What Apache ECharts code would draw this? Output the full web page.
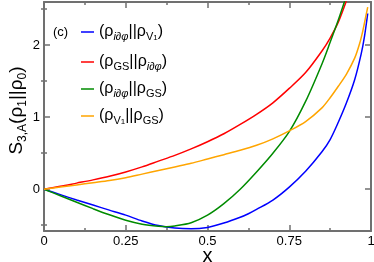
<!DOCTYPE html>
<html>
<head>
<meta charset="utf-8">
<script src="https://cdn.jsdelivr.net/npm/echarts@6/dist/echarts.min.js"></script>
<style>html,body{margin:0;padding:0;background:#fff}#c{width:374px;height:262px}</style>
</head>
<body>
<div id="c"></div>
<script>
// ---- data ----
const blueX = [0,0.05,0.1,0.15,0.2,0.25,0.3,0.35,0.4,0.45,0.5,0.55,0.6,0.625,0.65,0.7,0.75,0.8,0.85,0.875,0.9,0.925,0.95,0.97,0.98,0.99];
const blueY = [0,-0.075,-0.15,-0.22,-0.29,-0.36,-0.44,-0.505,-0.54,-0.55,-0.53,-0.47,-0.39,-0.34,-0.28,-0.15,0.03,0.25,0.52,0.69,0.93,1.2,1.52,1.88,2.12,2.44];
const redX = [0,0.05,0.1,0.15,0.2,0.25,0.3,0.35,0.4,0.45,0.5,0.55,0.6,0.65,0.7,0.75,0.8,0.85,0.875,0.9,0.925];
const redY = [0,0.04,0.085,0.13,0.18,0.24,0.31,0.39,0.47,0.56,0.66,0.77,0.9,1.04,1.2,1.4,1.62,1.92,2.1,2.32,2.62];
const greenX = [0,0.05,0.1,0.15,0.2,0.25,0.3,0.35,0.375,0.4,0.45,0.5,0.55,0.6,0.65,0.7,0.75,0.8,0.85,0.875,0.9,0.92];
const greenY = [0,-0.09,-0.18,-0.27,-0.355,-0.43,-0.485,-0.515,-0.52,-0.51,-0.465,-0.36,-0.2,0.0,0.24,0.5,0.8,1.22,1.74,2.04,2.35,2.62];
const orangeX = [0,0.05,0.1,0.15,0.2,0.25,0.3,0.35,0.4,0.45,0.5,0.55,0.6,0.65,0.7,0.75,0.8,0.85,0.875,0.9,0.925,0.95,0.965,0.975,0.985,0.99];
const orangeY = [0,0.03,0.06,0.09,0.12,0.16,0.21,0.26,0.31,0.36,0.42,0.48,0.54,0.61,0.7,0.81,0.94,1.13,1.27,1.43,1.6,1.82,2.02,2.2,2.42,2.53];
const xTickValues = [0,0.25,0.5,0.75,1];
const xTickLabels = ['0','0.25','0.5','0.75','1'];
const yTickValues = [0,1,2];
const yTickLabels = ['0','1','2'];
const yMinorValues = [-0.5,0.5,1.5,2.5];
const seriesNames = ['iddphi_V1','GS_iddphi','iddphi_GS','V1_GS'];
const legendRich = {
  'iddphi_V1': '{p|(ρ}{si|i∂φ}{p|||ρ}{s|V}{ss|1}{p|)}',
  'GS_iddphi': '{p|(ρ}{s|GS}{p|||ρ}{si|i∂φ}{p|)}',
  'iddphi_GS': '{p|(ρ}{si|i∂φ}{p|||ρ}{s|GS}{p|)}',
  'V1_GS': '{p|(ρ}{s|V}{ss|1}{p|||ρ}{s|GS}{p|)}'
};
const colors = ['#0000ff','#ff0000','#008b00','#ffa500'];

function pairs(xs, ys){ return xs.map((x,i)=>[x, ys[i]]); }

const FONT = 'Liberation Sans, Arial, Helvetica, sans-serif';
const axisCol = '#707070';
const rich = {
  p: {fontSize: 16, fontFamily: FONT, color:'#000', lineHeight: 20, verticalAlign:'middle'},
  s: {fontSize: 11, fontFamily: FONT, color:'#000', lineHeight: 10, verticalAlign:'bottom'},
  si: {fontSize: 11, fontFamily: FONT, fontStyle:'italic', color:'#000', lineHeight: 10, verticalAlign:'bottom'},
  ss: {fontSize: 8, fontFamily: FONT, color:'#000', lineHeight: 6, verticalAlign:'bottom'}
};

const chart = echarts.init(document.getElementById('c'), null, {renderer:'canvas'});
const legendTops = [19, 49, 76, 103];
const option = {
  animation: false,
  title: {text:'(c)', left: 48, top: 21, textStyle:{fontSize:13, fontWeight:'normal', fontFamily:FONT, color:'#000'}},
  grid: {left:44, right:3, top:2, bottom:31, containLabel:false, outerBoundsMode:'none'},
  legend: seriesNames.map((n,i)=>({
    data:[n], left: 76, top: legendTops[i], orient:'vertical', icon:'rect', itemWidth:13, itemHeight:1.5, itemGap:0,
    formatter: (name)=>legendRich[name], textStyle:{rich: rich}, selectedMode:false
  })),
  xAxis: [
    {type:'value', min:0, max:1, interval:0.25, position:'bottom',
     axisLine:{show:true, onZero:false, lineStyle:{color:axisCol, width:2}},
     axisTick:{show:true, inside:true, length:6, lineStyle:{color:axisCol, width:1.5}},
     minorTick:{show:true, splitNumber:2, length:3, lineStyle:{color:axisCol, width:1.5}},
     splitLine:{show:false},
     axisLabel:{fontSize:13, fontFamily:FONT, color:'#000', margin:4, formatter:(v)=>{const k=xTickValues.indexOf(v); return k>=0?xTickLabels[k]:'';}},
     name:'x', nameLocation:'middle', nameGap:15, nameMoveOverlap:false, nameTextStyle:{fontSize:20, fontFamily:FONT, color:'#000'}},
    {type:'value', min:0, max:1, interval:0.25, position:'top',
     axisLine:{show:true, onZero:false, lineStyle:{color:axisCol, width:2}},
     axisTick:{show:true, inside:true, length:6, lineStyle:{color:axisCol, width:1.5}},
     minorTick:{show:true, splitNumber:2, length:3, lineStyle:{color:axisCol, width:1.5}},
     splitLine:{show:false}, axisLabel:{show:false}}
  ],
  yAxis: [
    {type:'value', min:-0.58, max:2.6, position:'left',
     axisLine:{show:true, onZero:false, lineStyle:{color:axisCol, width:2}},
     axisTick:{show:true, inside:true, length:6, customValues:yTickValues, lineStyle:{color:axisCol, width:1.5}},
     splitLine:{show:false},
     axisLabel:{fontSize:13, fontFamily:FONT, color:'#000', margin:4, customValues:yTickValues, formatter:(v)=>{const k=yTickValues.indexOf(v); return k>=0?yTickLabels[k]:'';}},
     name:'{g| }{b|S}{bs|3,A}{b|(ρ}{bs|1}{b|||ρ}{bs|0}{b|)}', nameLocation:'middle', nameGap:15, nameMoveOverlap:false, nameRotate:90,
     nameTextStyle:{rich:{
       g:{width:12, fontSize:19, lineHeight:24},
       b:{fontSize:19, fontFamily:FONT, color:'#000', lineHeight:24, verticalAlign:'middle'},
       bs:{fontSize:12, fontFamily:FONT, color:'#000', lineHeight:10, verticalAlign:'bottom'}
     }}},
    {type:'value', min:-0.58, max:2.6, position:'left',
     axisLine:{show:false},
     axisTick:{show:true, inside:true, length:3, customValues:yMinorValues, lineStyle:{color:axisCol, width:1.5}},
     splitLine:{show:false}, axisLabel:{show:false}},
    {type:'value', min:-0.58, max:2.6, position:'right',
     axisLine:{show:true, onZero:false, lineStyle:{color:axisCol, width:2}},
     axisTick:{show:true, inside:true, length:6, customValues:yTickValues, lineStyle:{color:axisCol, width:1.5}},
     splitLine:{show:false}, axisLabel:{show:false}},
    {type:'value', min:-0.58, max:2.6, position:'right',
     axisLine:{show:false},
     axisTick:{show:true, inside:true, length:3, customValues:yMinorValues, lineStyle:{color:axisCol, width:1.5}},
     splitLine:{show:false}, axisLabel:{show:false}}
  ],
  series: [
    {name:seriesNames[0], type:'line', data:pairs(blueX, blueY)},
    {name:seriesNames[1], type:'line', data:pairs(redX, redY)},
    {name:seriesNames[2], type:'line', data:pairs(greenX, greenY)},
    {name:seriesNames[3], type:'line', data:pairs(orangeX, orangeY)}
  ].map((s,i)=>Object.assign(s, {xAxisIndex:0, yAxisIndex:0, smooth:0.3, showSymbol:false, symbol:'none', clip:true, color:colors[i], lineStyle:{color:colors[i], width:1.5}}))
};
chart.setOption(option);
</script>
</body>
</html>
